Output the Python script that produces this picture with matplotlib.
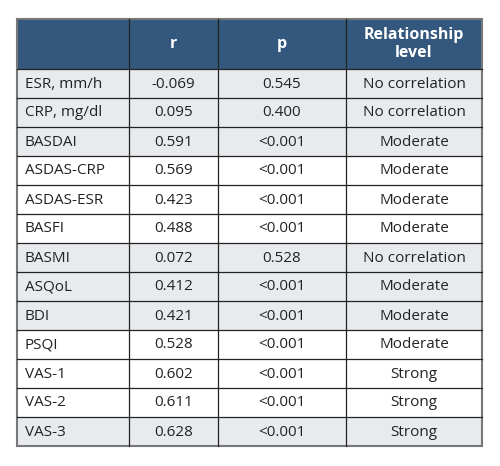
import matplotlib
matplotlib.use('Agg')
import matplotlib.pyplot as plt
from matplotlib.patches import Rectangle

# ── Table data ────────────────────────────────────────────────────────────────
HEADERS  = ['', 'r', 'p', 'Relationship\nlevel']
PARAMS   = ['ESR, mm/h', 'CRP, mg/dl', 'BASDAI', 'ASDAS-CRP', 'ASDAS-ESR',
            'BASFI', 'BASMI', 'ASQoL', 'BDI', 'PSQI', 'VAS-1', 'VAS-2', 'VAS-3']
R_VALUES = ['-0.069', '0.095', '0.591', '0.569', '0.423', '0.488', '0.072',
            '0.412', '0.421', '0.528', '0.602', '0.611', '0.628']
P_VALUES = ['0.545', '0.400', '<0.001', '<0.001', '<0.001', '<0.001', '0.528',
            '<0.001', '<0.001', '<0.001', '<0.001', '<0.001', '<0.001']
LEVELS   = ['No correlation', 'No correlation', 'Moderate', 'Moderate',
            'Moderate', 'Moderate', 'No correlation', 'Moderate', 'Moderate',
            'Moderate', 'Strong', 'Strong', 'Strong']

# ── Layout (pixels) ───────────────────────────────────────────────────────────
W, H     = 500, 466
COL_X    = [17, 129, 218, 346, 482]
TOP      = 19
HEAD_H   = 50
ROW_H    = 29
HEAD_BG  = '#34587d'
GREY_BG  = '#e8ebee'
FONT     = ['Open Sans', 'DejaVu Sans']
BODY_FS  = 11
HEAD_FS  = 11.5

fig = plt.figure(figsize=(W / 100, H / 100), dpi=100)
ax = fig.add_axes([0, 0, 1, 1])
ax.set_xlim(0, W)
ax.set_ylim(H, 0)
ax.axis('off')

# header
ax.add_patch(Rectangle((COL_X[0], TOP), COL_X[-1] - COL_X[0], HEAD_H,
                       facecolor=HEAD_BG, edgecolor='none'))
for i, h in enumerate(HEADERS):
    cx = (COL_X[i] + COL_X[i + 1]) / 2
    ax.text(cx, TOP + HEAD_H / 2, h, ha='center', va='center', color='white',
            fontsize=HEAD_FS, fontweight='bold', family=FONT, linespacing=1.1)

# body rows: grey/white in blocks of three
rows = list(zip(PARAMS, R_VALUES, P_VALUES, LEVELS))
for k, row in enumerate(rows):
    y0 = TOP + HEAD_H + k * ROW_H
    bg = GREY_BG if (k // 3) % 2 == 0 else 'white'
    ax.add_patch(Rectangle((COL_X[0], y0), COL_X[-1] - COL_X[0], ROW_H,
                           facecolor=bg, edgecolor='none'))
    for i, val in enumerate(row):
        if i == 0:
            ax.text(COL_X[0] + 8, y0 + ROW_H / 2 + 0.5, val, ha='left',
                    va='center', fontsize=BODY_FS, color='#222222', family=FONT)
        else:
            cx = (COL_X[i] + COL_X[i + 1]) / 2
            ax.text(cx, y0 + ROW_H / 2 + 0.5, val, ha='center', va='center',
                    fontsize=BODY_FS, color='#222222', family=FONT)

# grid lines
bottom = TOP + HEAD_H + len(rows) * ROW_H
for x in COL_X[1:-1]:
    ax.plot([x, x], [TOP, bottom], color='#222222', lw=0.9)
for k in range(len(rows)):
    y = TOP + HEAD_H + k * ROW_H
    ax.plot([COL_X[0], COL_X[-1]], [y, y], color='#222222', lw=0.9)
ax.add_patch(Rectangle((COL_X[0], TOP), COL_X[-1] - COL_X[0], bottom - TOP,
                       facecolor='none', edgecolor='#777777', lw=1.5))

fig.savefig('out.png', dpi=100)
